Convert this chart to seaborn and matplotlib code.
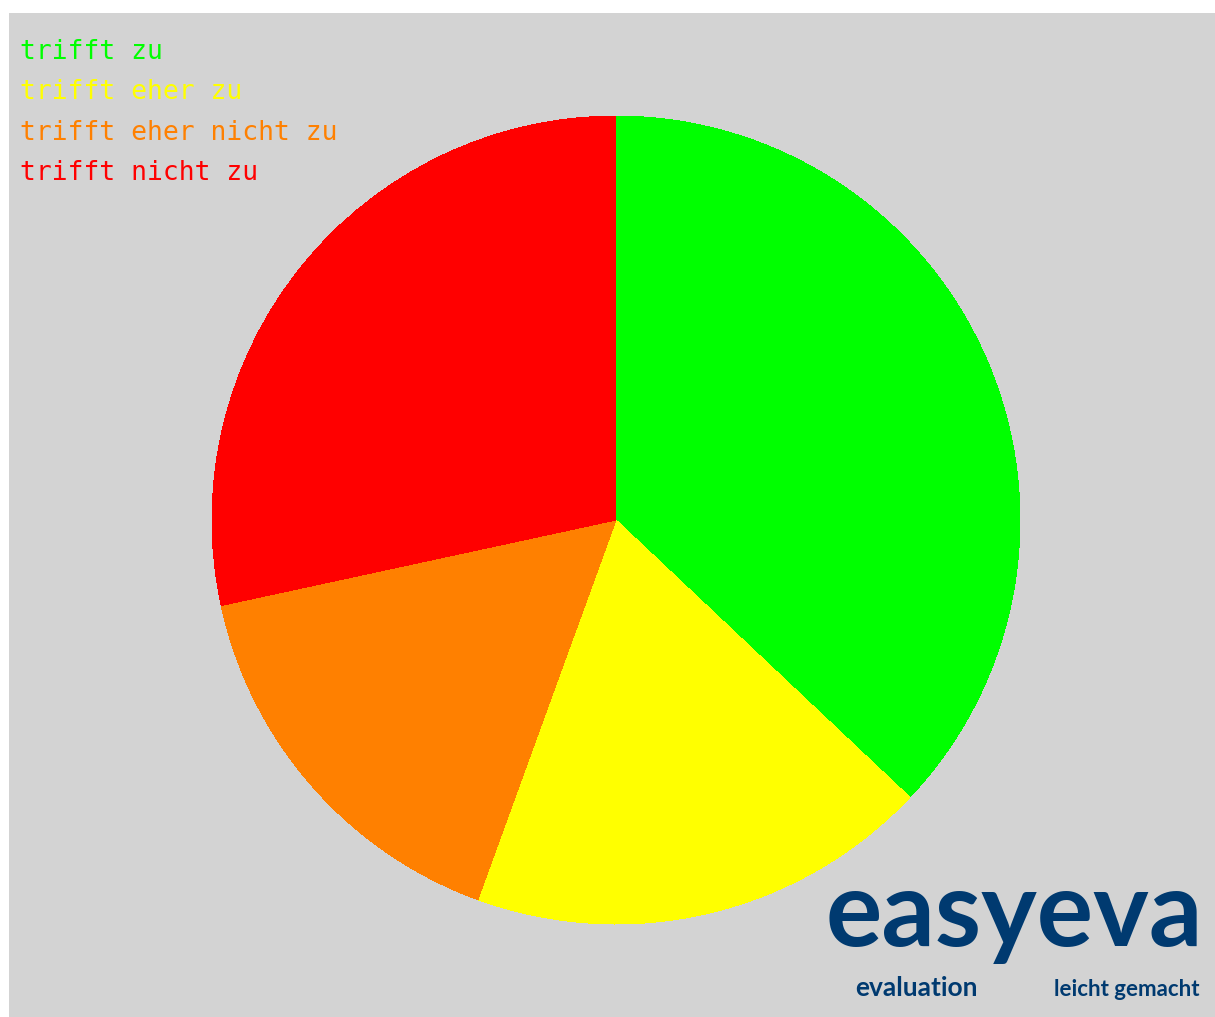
import matplotlib
matplotlib.use("Agg")
import matplotlib.pyplot as plt
import seaborn as sns

# data
labels = ["trifft zu", "trifft eher zu", "trifft eher nicht zu", "trifft nicht zu"]
counts = [30, 15, 13, 23]
colors = ["#00ff00", "#ffff00", "#ff8000", "#ff0000"]

sns.set_style("white")
plt.rcParams["font.family"] = ["DejaVu Sans Mono", "DejaVu Sans"]

W, H = 1215, 1017
fig = plt.figure(figsize=(W / 100, H / 100), dpi=100, facecolor="white")

# grey panel behind everything
bg = fig.add_axes([9 / W, 0, (W - 9) / W, (H - 13) / H])
bg.set_facecolor("#d3d3d3")
bg.set_xticks([])
bg.set_yticks([])
for s in bg.spines.values():
    s.set_visible(False)

# square axes for the pie, centred at (616, 520) px, radius 404 px
cx, cy, r = 616, 520, 404
ax = fig.add_axes([(cx - r) / W, (H - cy - r) / H, 2 * r / W, 2 * r / H])
ax.pie(counts, colors=colors, startangle=90, counterclock=False,
       wedgeprops=dict(linewidth=0, antialiased=False))
ax.set_xlim(-1, 1)
ax.set_ylim(-1, 1)
ax.set_aspect("auto")
ax.axis("off")

# legend as coloured text lines
for i, (lab, col) in enumerate(zip(labels, colors)):
    fig.text(20 / W, 1 - (59 + 40.3 * i) / H, lab, color=col,
             fontsize=19, va="baseline", ha="left")

# logo
fig.text(1203 / W, 1 - 946 / H, "easyeva", color="#003a70", fontsize=76,
         family="Lato", weight="bold", ha="right", va="baseline")
fig.text(855 / W, 1 - 996 / H, "evaluation", color="#003a70", fontsize=19,
         family="Lato", weight="bold", ha="left", va="baseline")
fig.text(1200 / W, 1 - 996 / H, "leicht gemacht", color="#003a70", fontsize=16,
         family="Lato", weight="bold", ha="right", va="baseline")

fig.savefig("out.png", dpi=100, facecolor="white")
